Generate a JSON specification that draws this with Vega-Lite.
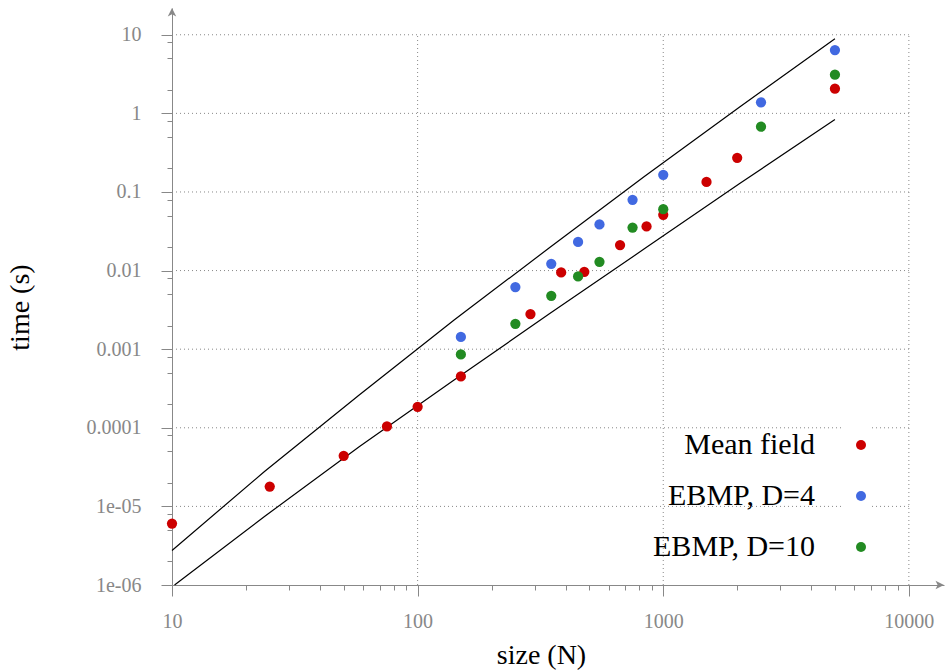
{
  "$schema": "https://vega.github.io/schema/vega-lite/v6.json",
  "width": 772,
  "height": 577,
  "autosize": "none",
  "padding": {"left": 172, "top": 8, "right": 5, "bottom": 86},
  "background": "white",
  "config": {
    "view": {"stroke": null},
    "font": "Liberation Serif"
  },
  "layer": [
    {
      "data": {"values": [{"N": 100}, {"N": 1000}, {"N": 10000}]},
      "mark": {"type": "rule", "color": "#888", "strokeDash": [1, 3], "strokeWidth": 1},
      "encoding": {
        "x": {
          "field": "N", "type": "quantitative",
          "scale": {"type": "log", "domain": [10, 13900], "nice": false, "zero": false},
          "axis": {
            "title": "size (N)",
            "grid": false,
            "values": [10,20,30,40,50,60,70,80,90,100,200,300,400,500,600,700,800,900,1000,2000,3000,4000,5000,6000,7000,8000,9000,10000],
            "labelExpr": "indexof([10,100,1000,10000], datum.value) >= 0 ? datum.value + '' : ''",
            "tickSize": {"condition": {"test": "indexof([10,100,1000,10000], datum.value) >= 0", "value": 11}, "value": 5},
            "tickColor": "#888",
            "domainColor": "#888",
            "labelColor": "#888",
            "labelFont": "Liberation Serif",
            "labelFontSize": 20,
            "labelPadding": 15,
            "labelFlush": false,
            "labelOverlap": false,
            "titleFont": "Liberation Serif",
            "titleFontSize": 28,
            "titleFontWeight": "normal",
            "titleColor": "black",
            "titleX": 369,
            "titleY": 70,
            "titleBaseline": "middle",
            "titleAlign": "center"
          }
        },
        "y": {"datum": 1e-6},
        "y2": {"datum": 10}
      }
    },
    {
      "data": {"values": [{"t": 1e-5}, {"t": 0.0001}, {"t": 0.001}, {"t": 0.01}, {"t": 0.1}, {"t": 1}, {"t": 10}]},
      "mark": {"type": "rule", "color": "#888", "strokeDash": [1, 3], "strokeWidth": 1},
      "encoding": {
        "y": {
          "field": "t", "type": "quantitative",
          "scale": {"type": "log", "domain": [1e-6, 21.9], "nice": false, "zero": false},
          "axis": {
            "title": "time (s)",
            "grid": false,
            "values": [1e-6,2e-6,5e-6,8e-6,1e-5,2e-5,5e-5,8e-5,0.0001,0.0002,0.0005,0.0008,0.001,0.002,0.005,0.008,0.01,0.02,0.05,0.08,0.1,0.2,0.5,0.8,1,2,5,8,10],
            "labelExpr": "datum.value == 1e-5 ? '1e-05' : datum.value == 1e-6 ? '1e-06' : indexof([10,1,0.1,0.01,0.001,0.0001], datum.value) >= 0 ? datum.value + '' : ''",
            "tickSize": {"condition": {"test": "indexof([1e-6,1e-5,0.0001,0.001,0.01,0.1,1,10], datum.value) >= 0", "value": 11}, "value": 5},
            "tickColor": "#888",
            "domainColor": "#888",
            "labelColor": "#888",
            "labelFont": "Liberation Serif",
            "labelFontSize": 20,
            "labelPadding": 20,
            "labelFlush": false,
            "labelOverlap": false,
            "titleFont": "Liberation Serif",
            "titleFontSize": 28,
            "titleFontWeight": "normal",
            "titleColor": "black",
            "titleX": -152,
            "titleY": 299,
            "titleAngle": -90,
            "titleBaseline": "middle",
            "titleAlign": "center"
          }
        },
        "x": {"datum": 10},
        "x2": {"datum": 10000}
      }
    },
    {
      "data": {"values": [
        {"line": "upper", "N": 10, "t": 2.75e-6},
        {"line": "upper", "N": 23.8, "t": 2.78e-5},
        {"line": "upper", "N": 58, "t": 2.63e-4},
        {"line": "upper", "N": 141.2, "t": 2.37e-3},
        {"line": "upper", "N": 343.9, "t": 0.0195},
        {"line": "upper", "N": 837.6, "t": 0.1575},
        {"line": "upper", "N": 2040, "t": 1.2},
        {"line": "upper", "N": 5000, "t": 8.9},
        {"line": "lower", "N": 10.24, "t": 1e-6},
        {"line": "lower", "N": 23.8, "t": 7.44e-6},
        {"line": "lower", "N": 58, "t": 5.78e-5},
        {"line": "lower", "N": 141.2, "t": 4.08e-4},
        {"line": "lower", "N": 343.9, "t": 2.82e-3},
        {"line": "lower", "N": 837.6, "t": 0.0189},
        {"line": "lower", "N": 2040, "t": 0.127},
        {"line": "lower", "N": 5000, "t": 0.836}
      ]},
      "mark": {"type": "line", "color": "black", "strokeWidth": 1.2},
      "encoding": {
        "x": {"field": "N", "type": "quantitative"},
        "y": {"field": "t", "type": "quantitative"},
        "detail": {"field": "line"},
        "order": {"field": "N", "type": "quantitative"}
      }
    },
    {
      "data": {"values": [
        {"method": "Mean field", "N": 10, "t": 6.05e-6},
        {"method": "Mean field", "N": 25, "t": 1.79e-5},
        {"method": "Mean field", "N": 50, "t": 4.4e-5},
        {"method": "Mean field", "N": 75, "t": 1.04e-4},
        {"method": "Mean field", "N": 100, "t": 1.85e-4},
        {"method": "Mean field", "N": 150, "t": 4.5e-4},
        {"method": "Mean field", "N": 288, "t": 2.8e-3},
        {"method": "Mean field", "N": 384, "t": 9.46e-3},
        {"method": "Mean field", "N": 477, "t": 9.66e-3},
        {"method": "Mean field", "N": 667, "t": 0.0211},
        {"method": "Mean field", "N": 855, "t": 0.0364},
        {"method": "Mean field", "N": 1000, "t": 0.0513},
        {"method": "Mean field", "N": 1500, "t": 0.134},
        {"method": "Mean field", "N": 2000, "t": 0.272},
        {"method": "Mean field", "N": 5000, "t": 2.06},
        {"method": "EBMP, D=4", "N": 150, "t": 1.43e-3},
        {"method": "EBMP, D=4", "N": 250, "t": 6.16e-3},
        {"method": "EBMP, D=4", "N": 350, "t": 0.0122},
        {"method": "EBMP, D=4", "N": 450, "t": 0.0231},
        {"method": "EBMP, D=4", "N": 550, "t": 0.0386},
        {"method": "EBMP, D=4", "N": 750, "t": 0.0796},
        {"method": "EBMP, D=4", "N": 1000, "t": 0.1656},
        {"method": "EBMP, D=4", "N": 2500, "t": 1.38},
        {"method": "EBMP, D=4", "N": 5000, "t": 6.38},
        {"method": "EBMP, D=10", "N": 150, "t": 8.57e-4},
        {"method": "EBMP, D=10", "N": 250, "t": 2.1e-3},
        {"method": "EBMP, D=10", "N": 350, "t": 4.77e-3},
        {"method": "EBMP, D=10", "N": 450, "t": 8.41e-3},
        {"method": "EBMP, D=10", "N": 550, "t": 0.01294},
        {"method": "EBMP, D=10", "N": 750, "t": 0.0353},
        {"method": "EBMP, D=10", "N": 1000, "t": 0.0605},
        {"method": "EBMP, D=10", "N": 2500, "t": 0.676},
        {"method": "EBMP, D=10", "N": 5000, "t": 3.1}
      ]},
      "mark": {"type": "point", "filled": true, "opacity": 1, "size": 105, "shape": "circle"},
      "encoding": {
        "x": {"field": "N", "type": "quantitative"},
        "y": {"field": "t", "type": "quantitative"},
        "color": {
          "field": "method", "type": "nominal",
          "scale": {"domain": ["Mean field", "EBMP, D=4", "EBMP, D=10"], "range": ["#cc0000", "#4169e1", "#228b22"]},
          "legend": {
            "title": null,
            "orient": "none",
            "legendX": 670,
            "legendY": 418,
            "labelAlign": "right",
            "labelOffset": -61,
            "labelFont": "Liberation Serif",
            "labelFontSize": 30,
            "labelColor": "black",
            "labelLimit": 400,
            "symbolSize": 100,
            "symbolType": "circle",
            "symbolStrokeWidth": 0,
            "rowPadding": 21,
            "fillColor": "white",
            "padding": 4
          }
        }
      }
    },
    {
      "data": {"values": [{"a": "x"}]},
      "mark": {"type": "point", "filled": true, "opacity": 1, "color": "#888", "size": 18, "shape": "M0,0 L-4,-2 L-3,0 L-4,2 Z"},
      "encoding": {"x": {"datum": 13900}, "y": {"datum": 1e-6}}
    },
    {
      "data": {"values": [{"a": "y"}]},
      "mark": {"type": "point", "filled": true, "opacity": 1, "color": "#888", "size": 18, "shape": "M0,0 L-2,4 L0,3 L2,4 Z"},
      "encoding": {"x": {"datum": 10}, "y": {"datum": 21.9}}
    }
  ]
}
